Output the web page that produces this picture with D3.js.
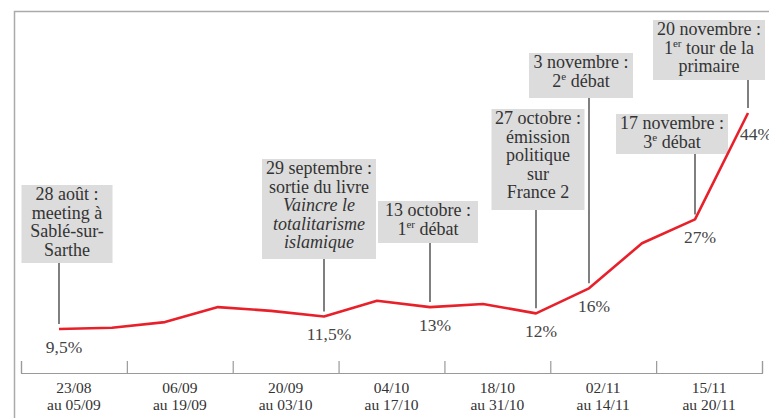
<!DOCTYPE html>
<html>
<head>
<meta charset="utf-8">
<script src="https://cdn.jsdelivr.net/npm/d3@7"></script>
<style>
body { margin: 0; background: #fff; }
</style>
</head>
<body>
<div id="chart"></div>
<script>
// one poll value (%) per week, 23/08 -> 20/11
var values = [9.5, 9.7, 10.6, 13.0, 12.4, 11.5, 14.0, 13, 13.5, 12, 16, 23.2, 27, 44]
var labelled = [0, 5, 7, 9, 10, 12, 13]

var periods = ['23/08', '06/09', '20/09', '04/10', '18/10', '02/11', '15/11']
var periodEnds = ['au 05/09', 'au 19/09', 'au 03/10', 'au 17/10', 'au 31/10', 'au 14/11', 'au 20/11']

// "_" = italic line, "^" = superscript
var eventWeeks = [0, 5, 7, 9, 10, 12, 13]
var eventTexts = [
  ['28 août :', 'meeting à', 'Sablé-sur-', 'Sarthe'],
  ['29 septembre :', 'sortie du livre', '_Vaincre le', '_totalitarisme', '_islamique'],
  ['13 octobre :', '1^er^ débat'],
  ['27 octobre :', 'émission', 'politique', 'sur', 'France 2'],
  ['3 novembre :', '2^e^ débat'],
  ['17 novembre :', '3^e^ débat'],
  ['20 novembre :', '1^er^ tour de la', 'primaire']
]

// box layout: top, shift from leader line, width, height
var boxTop = [185, 159, 201, 109, 53, 114, 20]
var boxDx = [8, -5, -2, 2, -8, -23, -39]
var boxW = [91, 114, 100, 93, 104, 112, 112]
var boxH = [78, 100, 42, 101, 45, 40, 60]

var serif = '"Liberation Serif"'
var ink = '#333'
var fr = d3.formatLocale({decimal: ',', thousands: ' ', grouping: [3], currency: ['', '€']})
var pct = function(v){ return fr.format('~f')(v) + '%' }

var width = 769, height = 418
var svg = d3.select('#chart').append('svg')
  .attr('width', width).attr('height', height)

// frame
svg.append('path')
  .attr('d', 'M14.5,' + height + 'V11.5H' + width)
  .attr('fill', 'none').attr('stroke', '#aaa').attr('stroke-width', 1.5)

var x = d3.scaleLinear().domain([0, values.length - 1]).range([59, 748])
var y = d3.scaleLinear().domain([9.5, 44]).range([329, 113])
var band = d3.scaleBand().domain(periods).range([21, 762])
var edge = d3.scaleLinear().domain([0, periods.length]).range([21, 762])

// axis with upward ticks at period boundaries
var axisG = svg.append('g').attr('transform', 'translate(0,373)')
  .call(d3.axisBottom(edge).ticks(periods.length).tickSize(-12).tickFormat(''))
axisG.selectAll('path, line').attr('stroke', '#9a9a9a').attr('stroke-width', 1.2)

var labG = svg.append('g').attr('transform', 'translate(0,373)')
  .call(d3.axisBottom(band).tickSize(0).tickPadding(0))
labG.select('.domain').remove()
labG.selectAll('text').each(function(d, i){
  var t = d3.select(this).text(null)
    .attr('dy', null).attr('y', 0)
    .style('font-family', serif)
    .style('font-size', '15.5px')
    .style('fill', ink)
  t.append('tspan').attr('x', 0).attr('y', 20).text(d)
  t.append('tspan').attr('x', 0).attr('y', 37).text(periodEnds[i])
})

// leader lines and boxes
eventWeeks.forEach(function(w, k){
  var lx = x(w)
  var top = boxTop[k], h = boxH[k]
  svg.append('line')
    .attr('x1', lx).attr('x2', lx)
    .attr('y1', top + h).attr('y2', y(values[w]) - 5)
    .attr('stroke', '#2a2a2a').attr('stroke-width', 1.2)

  var cx = lx + boxDx[k]
  svg.append('rect')
    .attr('x', cx - boxW[k] / 2).attr('y', top)
    .attr('width', boxW[k]).attr('height', h)
    .attr('fill', '#dcdcdc')

  var t = svg.append('text')
    .attr('text-anchor', 'middle')
    .style('font-family', serif)
    .style('font-size', '18px')
    .style('fill', ink)
  eventTexts[k].forEach(function(line, j){
    var italic = line[0] == '_'
    if (italic) line = line.slice(1)
    var parts = line.split('^')
    var row = t.append('tspan').attr('x', cx).attr('y', top + 15 + j * 18.5)
      .style('font-style', italic ? 'italic' : null)
    parts.forEach(function(p, pi){
      if (!p.length) return
      var s = row.append('tspan').text(p)
      if (pi == 1) s.style('font-size', '11px').attr('dy', -7)
      if (pi == 2) s.attr('dy', 7)
    })
  })
})

// poll line
var line = d3.line().x(function(d, i){ return x(i) }).y(function(d){ return y(d) })
svg.append('path')
  .attr('d', line(values))
  .attr('fill', 'none')
  .attr('stroke', '#e8202a')
  .attr('stroke-width', 2.6)
  .attr('stroke-linejoin', 'round')

// value labels
svg.selectAll('text.val').data(labelled).enter().append('text')
  .attr('class', 'val')
  .attr('x', function(i){ return i == values.length - 1 ? x(i) - 8 : x(i) + 5 })
  .attr('y', function(i){ return y(values[i]) + (i == values.length - 1 ? 27 : 24) })
  .attr('text-anchor', function(i){ return i == values.length - 1 ? 'start' : 'middle' })
  .style('font-family', serif)
  .style('font-size', '17.5px')
  .style('fill', '#444')
  .text(function(i){ return pct(values[i]) })
</script>
</body>
</html>
